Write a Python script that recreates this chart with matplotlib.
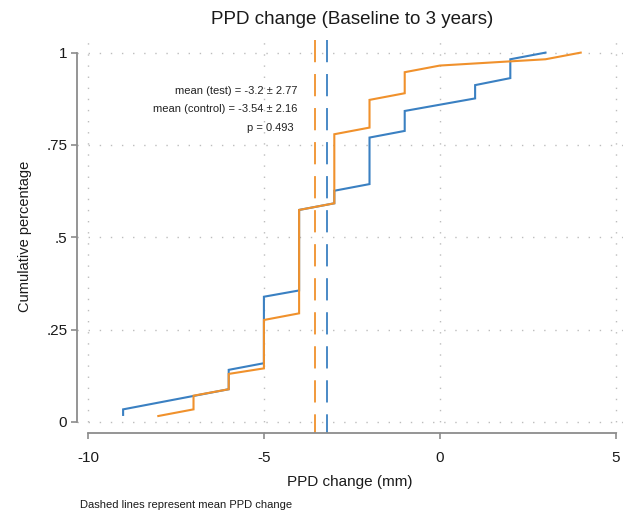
import matplotlib
matplotlib.use("Agg")
import matplotlib.pyplot as plt

plt.rcParams['font.family'] = ['Liberation Sans', 'DejaVu Sans']
plt.rcParams['lines.scale_dashes'] = False

# Empirical cumulative curves (vertices of the sorted-step lines)
test_x = [-9, -9, -6, -6, -5, -5, -4, -4, -3, -3, -2, -2, -1, -1, 1, 1, 2, 2, 3]
test_y = [0.019, 0.034, 0.0885, 0.141, 0.159, 0.339, 0.356, 0.574, 0.592, 0.626,
          0.644, 0.770, 0.788, 0.842, 0.876, 0.912, 0.931, 0.982, 1.0]

control_x = [-8, -7, -7, -6, -6, -5, -5, -4, -4, -3, -3, -2, -2, -1, -1, 0, 3, 4]
control_y = [0.016, 0.034, 0.071, 0.0885, 0.130, 0.145, 0.276, 0.294, 0.574, 0.592,
             0.779, 0.797, 0.872, 0.890, 0.947, 0.965, 0.982, 1.0]

mean_test, sd_test = -3.2, 2.77
mean_control, sd_control = -3.54, 2.16
p_value = 0.493

x_ticks = [-10, -5, 0, 5]
y_ticks = [0, 0.25, 0.5, 0.75, 1]
y_tick_labels = ["0", ".25", ".5", ".75", "1"]

BLUE = "#3a80c2"
ORANGE = "#f0912c"
AXIS_GRAY = "#8c8c8c"

W, H = 627, 517
fig = plt.figure(figsize=(W / 100, H / 100), dpi=100)

xlim = (-10.31, 5.2)
ylim = (-0.03, 1.035)
px_x, px_y = 35.2, 369.3
ax = fig.add_axes([77 / W, (H - 433) / H,
                   (xlim[1] - xlim[0]) * px_x / W,
                   (ylim[1] - ylim[0]) * px_y / H])
ax.set_xlim(*xlim)
ax.set_ylim(*ylim)

# dotted grid at major ticks
dot = (0, (1.0, 7.0))
for xv in x_ticks:
    ax.axvline(xv, color="#bdbdbd", lw=1.0, ls=dot, zorder=0)
for yv in y_ticks:
    ax.axhline(yv, color="#bdbdbd", lw=1.0, ls=dot, zorder=0)

# mean reference lines
dash = (0, (16, 8.5))
ax.axvline(mean_control, ymin=1, ymax=0, color=ORANGE, lw=1.3, ls=dash, zorder=2)
ax.axvline(mean_test, ymin=1, ymax=0, color=BLUE, lw=1.3, ls=dash, zorder=2)

# cumulative curves
ax.plot(test_x, test_y, color=BLUE, lw=1.5, zorder=3, solid_joinstyle="miter")
ax.plot(control_x, control_y, color=ORANGE, lw=1.5, zorder=4, solid_joinstyle="miter")

# summary text
txt_kw = dict(ha="right", va="center", fontsize=8, color="#222222")
ax.text(-4.06, 0.897, f"mean (test) = {mean_test} \u00b1 {sd_test}", **txt_kw)
ax.text(-4.06, 0.848, f"mean (control) = {mean_control} \u00b1 {sd_control}", **txt_kw)
ax.text(-4.17, 0.797, f"p = {p_value}", **txt_kw)

# axes styling
for s in ("top", "right"):
    ax.spines[s].set_visible(False)
for s in ("left", "bottom"):
    ax.spines[s].set_color(AXIS_GRAY)
    ax.spines[s].set_linewidth(1.3)
ax.spines["left"].set_bounds(0, 1)
ax.spines["bottom"].set_bounds(-10, 5)

ax.set_xticks(x_ticks)
ax.set_xticklabels([str(v) for v in x_ticks])
ax.set_yticks(y_ticks)
ax.set_yticklabels(y_tick_labels)
ax.tick_params(axis="both", direction="out", length=4, width=1.2,
               color=AXIS_GRAY, labelsize=11, labelcolor="#1a1a1a")
ax.tick_params(axis="x", pad=9)
ax.tick_params(axis="y", pad=3)

ax.set_xlabel("PPD change (mm)", fontsize=11, color="#1a1a1a", labelpad=7)
ax.set_ylabel("Cumulative percentage", fontsize=10.5, color="#1a1a1a", labelpad=10)

fig.text(352 / W, 1 - 19 / H, "PPD change (Baseline to 3 years)",
         ha="center", va="center", fontsize=13.5, color="#1a1a1a")
fig.text(80 / W, 1 - 505 / H, "Dashed lines represent mean PPD change",
         ha="left", va="center", fontsize=8, color="#1a1a1a")

fig.savefig("out.png", dpi=100, facecolor="white")
